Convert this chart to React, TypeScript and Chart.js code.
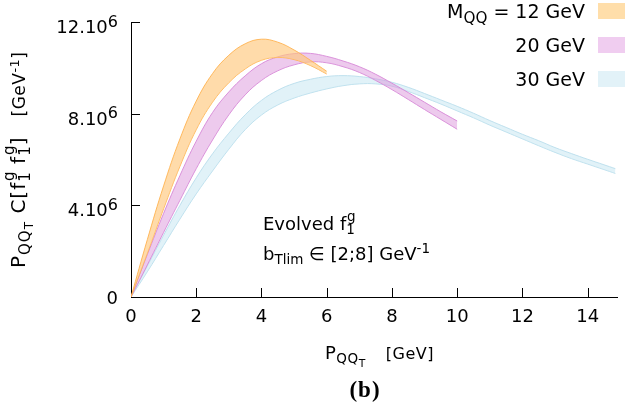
import React, { useEffect, useRef } from "react";
import { Chart, registerables } from "chart.js";

Chart.register(...registerables);

// ---- data (y values in units of 10^6 GeV^-1) ----
const X12 = [0, 0.5, 1, 1.5, 2, 2.5, 3, 3.5, 4, 4.5, 5, 5.5, 6];
const UPPER12 = [0, 2.5, 4.85, 6.9, 8.55, 9.75, 10.55, 11.05, 11.25, 11.12, 10.78, 10.33, 9.85];
const LOWER12 = [0, 1.9, 3.85, 5.7, 7.3, 8.5, 9.35, 9.95, 10.33, 10.45, 10.36, 10.1, 9.73];

const X20 = [0, 0.5, 1, 1.5, 2, 2.5, 3, 3.5, 4, 4.5, 5, 5.5, 6, 6.5, 7, 7.5, 8, 8.5, 9, 9.5, 10];
const UPPER20 = [0, 1.85, 3.65, 5.3, 6.8, 8.05, 8.95, 9.65, 10.18, 10.48, 10.62, 10.63, 10.5, 10.3, 10.05, 9.72, 9.33, 8.92, 8.5, 8.08, 7.68];
const LOWER20 = [0, 1.4, 2.82, 4.22, 5.6, 6.85, 7.95, 8.82, 9.45, 9.87, 10.13, 10.26, 10.22, 10.05, 9.8, 9.45, 9.05, 8.62, 8.18, 7.75, 7.32];

const X30 = [0, 0.5, 1, 1.5, 2, 2.5, 3, 3.5, 4, 4.5, 5, 5.5, 6, 6.5, 7, 7.5, 8, 8.5, 9, 9.5, 10, 10.5, 11, 11.5, 12, 12.5, 13, 13.5, 14, 14.5, 14.85];
const UPPER30 = [0, 1.35, 2.7, 4.0, 5.2, 6.25, 7.15, 7.95, 8.58, 9.02, 9.32, 9.5, 9.62, 9.66, 9.62, 9.52, 9.37, 9.15, 8.88, 8.6, 8.32, 8.02, 7.7, 7.4, 7.1, 6.82, 6.52, 6.26, 6.01, 5.77, 5.6];
const LOWER30 = [0, 1.1, 2.25, 3.4, 4.5, 5.5, 6.45, 7.3, 7.94, 8.38, 8.68, 8.9, 9.08, 9.22, 9.3, 9.3, 9.2, 8.97, 8.7, 8.42, 8.12, 7.82, 7.5, 7.2, 6.9, 6.6, 6.31, 6.04, 5.8, 5.56, 5.39];

const X_TICKS = [0, 2, 4, 6, 8, 10, 12, 14];
const Y_TICKS = [0, 4, 8, 12];
const Y_TICK_BASE = ["0", "4.10", "8.10", "12.10"];
const Y_TICK_EXP = ["", "6", "6", "6"];
const X_MIN = 0;
const X_MAX = 14.9;
const Y_MIN = 0;
const Y_MAX = 12;

const SERIES = [
  { x: X12, upper: UPPER12, lower: LOWER12, fill: "rgba(255,200,125,0.65)", line: "rgba(255,178,80,0.9)" },
  { x: X20, upper: UPPER20, lower: LOWER20, fill: "rgba(220,150,220,0.5)", line: "rgba(215,135,215,0.9)" },
  { x: X30, upper: UPPER30, lower: LOWER30, fill: "rgba(195,230,242,0.5)", line: "rgba(185,222,236,0.9)" },
];

const FONT = "'DejaVu Sans', sans-serif";

const axisDecor = {
  id: "axisDecor",
  afterDraw(chart: any) {
    const { ctx, chartArea, scales } = chart;
    ctx.save();
    // inward tick marks
    ctx.strokeStyle = "#000";
    ctx.lineWidth = 1;
    ctx.beginPath();
    X_TICKS.forEach((v) => {
      if (v === 0) return;
      const px = Math.round(scales.x.getPixelForValue(v)) + 0.5;
      ctx.moveTo(px, chartArea.bottom);
      ctx.lineTo(px, chartArea.bottom - 9);
    });
    Y_TICKS.forEach((v) => {
      if (v === 0) return;
      const py = Math.round(scales.y.getPixelForValue(v)) + 0.5;
      ctx.moveTo(chartArea.left, py);
      ctx.lineTo(chartArea.left + 9, py);
    });
    ctx.stroke();
    // y tick labels with superscript exponent
    ctx.fillStyle = "#000";
    ctx.textAlign = "right";
    ctx.textBaseline = "alphabetic";
    const right = chartArea.left - 13;
    Y_TICKS.forEach((v, i) => {
      const py = scales.y.getPixelForValue(v);
      const exp = Y_TICK_EXP[i];
      if (!exp) {
        ctx.font = `18px ${FONT}`;
        ctx.fillText(Y_TICK_BASE[i], right, py + 6.5);
        return;
      }
      ctx.font = `16px ${FONT}`;
      const ew = ctx.measureText(exp).width;
      ctx.fillText(exp, right, py + 4.7);
      ctx.font = `18px ${FONT}`;
      ctx.fillText(Y_TICK_BASE[i], right - ew, py + 11);
    });
    ctx.restore();
  },
};

const subS: React.CSSProperties = { fontSize: "0.75em", position: "relative", top: "0.32em", lineHeight: 0 };
const supS: React.CSSProperties = { fontSize: "0.75em", position: "relative", top: "-0.5em", lineHeight: 0 };

function SubSup({ sub, sup }: { sub: string; sup: string }) {
  return (
    <span style={{ display: "inline-block", position: "relative", lineHeight: 0 }}>
      <span style={subS}>{sub}</span>
      <span style={{ ...supS, position: "absolute", left: "0.05em", top: "-0.6em" }}>{sup}</span>
    </span>
  );
}

function Pqqt() {
  return (
    <>
      P
      <span style={subS}>
        QQ<span style={{ fontSize: "0.8em", position: "relative", top: "0.3em" }}>T</span>
      </span>
    </>
  );
}

export default function App() {
  const canvasRef = useRef<HTMLCanvasElement | null>(null);

  useEffect(() => {
    const datasets: any[] = [];
    SERIES.forEach((s) => {
      datasets.push({
        data: s.x.map((x, i) => ({ x, y: s.upper[i] })),
        borderColor: s.line,
        backgroundColor: s.fill,
        borderWidth: 1,
        pointRadius: 0,
        fill: "+1",
        tension: 0.4,
      });
      datasets.push({
        data: s.x.map((x, i) => ({ x, y: s.lower[i] })),
        borderColor: s.line,
        backgroundColor: s.fill,
        borderWidth: 1,
        pointRadius: 0,
        fill: false,
        tension: 0.4,
      });
    });

    const chart = new Chart(canvasRef.current as HTMLCanvasElement, {
      type: "line",
      data: { datasets },
      options: {
        animation: false,
        responsive: false,
        layout: { padding: { top: 22, right: 8, left: 0, bottom: 0 } },
        plugins: { legend: { display: false }, tooltip: { enabled: false } },
        scales: {
          x: {
            type: "linear",
            min: X_MIN,
            max: X_MAX,
            afterBuildTicks: (s: any) => {
              s.ticks = X_TICKS.map((v) => ({ value: v }));
            },
            afterFit: (s: any) => {
              s.height = 105;
            },
            ticks: {
              color: "#000",
              font: { family: FONT, size: 18 },
              padding: 10,
              maxRotation: 0,
              autoSkip: false,
              callback: (v: any) => String(v),
            },
            grid: { display: false, drawTicks: false },
            border: { display: true, color: "#000", width: 1 },
          },
          y: {
            type: "linear",
            min: Y_MIN,
            max: Y_MAX,
            afterBuildTicks: (s: any) => {
              s.ticks = Y_TICKS.map((v) => ({ value: v }));
            },
            afterFit: (s: any) => {
              s.width = 131;
            },
            ticks: { display: false },
            grid: { display: false, drawTicks: false },
            border: { display: true, color: "#000", width: 1 },
          },
        },
      },
      plugins: [axisDecor],
    });
    return () => chart.destroy();
  }, []);

  const text: React.CSSProperties = {
    position: "absolute",
    fontFamily: FONT,
    fontSize: 18,
    lineHeight: "18px",
    color: "#000",
    whiteSpace: "nowrap",
  };

  return (
    <div style={{ position: "absolute", left: 0, top: 0, width: 625, height: 402, overflow: "hidden", background: "#fff" }}>
      <canvas ref={canvasRef} width={625} height={402} style={{ display: "block", position: "absolute", left: 0, top: 0 }} />

      {/* legend */}
      <div style={{ ...text, fontSize: 19, right: 40, top: 2, textAlign: "right" }}>
        M<span style={{ ...subS, fontSize: "0.8em" }}>QQ</span> = 12 GeV
      </div>
      <div style={{ ...text, fontSize: 19, right: 40, top: 36, textAlign: "right" }}>20 GeV</div>
      <div style={{ ...text, fontSize: 19, right: 40, top: 70, textAlign: "right" }}>30 GeV</div>
      <div style={{ position: "absolute", left: 598, top: 3, width: 40, height: 16, background: "rgb(255,222,170)" }} />
      <div style={{ position: "absolute", left: 598, top: 37, width: 40, height: 16, background: "rgb(240,205,240)" }} />
      <div style={{ position: "absolute", left: 598, top: 71, width: 40, height: 16, background: "rgb(226,242,248)" }} />

      {/* annotation */}
      <div style={{ ...text, left: 263, top: 215 }}>
        Evolved f<SubSup sub="1" sup="g" />
      </div>
      <div style={{ ...text, left: 263, top: 245 }}>
        b<span style={subS}>Tlim</span> ∈ [2;8] GeV<span style={supS}>-1</span>
      </div>

      {/* x title */}
      <div style={{ ...text, left: 325, top: 344, letterSpacing: 0.5 }}>
        <Pqqt />
        <span style={{ fontSize: 16, marginLeft: 20 }}>[GeV]</span>
      </div>

      {/* y title */}
      <div style={{ ...text, fontSize: 20, lineHeight: "20px", left: 8, top: 268, letterSpacing: 1, transform: "rotate(-90deg)", transformOrigin: "0 0" }}>
        <Pqqt />
        {" C[f"}
        <SubSup sub="1" sup="g" />
        {" f"}
        <SubSup sub="1" sup="g" />
        {"]"}
        <span style={{ fontSize: 17, marginLeft: 20, letterSpacing: 0.5 }}>
          [GeV<span style={supS}>-1</span>]
        </span>
      </div>

      {/* caption */}
      <div style={{ position: "absolute", left: 365, top: 378, transform: "translateX(-50%)", fontFamily: "'Liberation Serif', serif", fontWeight: "bold", fontSize: 23, lineHeight: "23px", whiteSpace: "nowrap", letterSpacing: 1 }}>
        (b)
      </div>
    </div>
  );
}
